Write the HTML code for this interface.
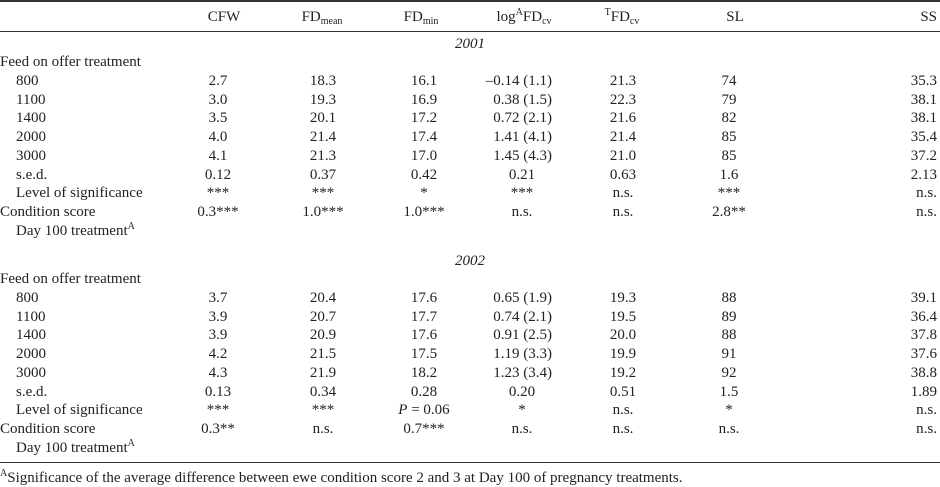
<!DOCTYPE html>
<html><head><meta charset="utf-8">
<style>
html,body{margin:0;padding:0;background:#fff;}
#t{position:relative;width:940px;height:487px;overflow:hidden;font-family:"Liberation Serif",serif;font-size:15px;color:#222;}
.c{position:absolute;white-space:nowrap;line-height:16px;}
.rule{position:absolute;left:0;width:940px;background:#333;}
sub,sup{font-size:10px;line-height:0;}
sub{vertical-align:-3px;}
sup{vertical-align:6px;}
</style></head>
<body>
<div id="t">
<div class="rule" style="top:0;height:2px"></div>
<div class="rule" style="top:31px;height:1px"></div>
<div class="rule" style="top:462px;height:1px"></div>
</div>
<script>
const colCenters=[218,323,424,522,623,729,null];
const headers=['CFW','FD<sub>mean</sub>','FD<sub>min</sub>','log<sup>A</sup>FD<sub>cv</sub>','<sup>T</sup>FD<sub>cv</sub>','SL','SS'];
const headerCenters=[224,322,421,524,622,735,926];
const labels2001=['800','1100','1400','2000','3000','s.e.d.','Level of significance'];
const rows2001=[
['2.7','18.3','16.1','\u20130.14 (1.1)','21.3','74','35.3'],
['3.0','19.3','16.9','0.38 (1.5)','22.3','79','38.1'],
['3.5','20.1','17.2','0.72 (2.1)','21.6','82','38.1'],
['4.0','21.4','17.4','1.41 (4.1)','21.4','85','35.4'],
['4.1','21.3','17.0','1.45 (4.3)','21.0','85','37.2'],
['0.12','0.37','0.42','0.21','0.63','1.6','2.13'],
['***','***','*','***','n.s.','***','n.s.']];
const cond2001=['0.3***','1.0***','1.0***','n.s.','n.s.','2.8**','n.s.'];
const rows2002=[
['3.7','20.4','17.6','0.65 (1.9)','19.3','88','39.1'],
['3.9','20.7','17.7','0.74 (2.1)','19.5','89','36.4'],
['3.9','20.9','17.6','0.91 (2.5)','20.0','88','37.8'],
['4.2','21.5','17.5','1.19 (3.3)','19.9','91','37.6'],
['4.3','21.9','18.2','1.23 (3.4)','19.2','92','38.8'],
['0.13','0.34','0.28','0.20','0.51','1.5','1.89'],
['***','***','<i>P</i> = 0.06','*','n.s.','*','n.s.']];
const cond2002=['0.3**','n.s.','0.7***','n.s.','n.s.','n.s.','n.s.'];
const T=document.getElementById('t');
function put(html,x,yc,align,name){
  const d=document.createElement('div');
  d.className='c';
  d.innerHTML=html;
  
  
  d.style.top=(yc-8)+'px';
  if(align==='left'){d.style.left=x+'px';}
  else if(align==='right'){d.style.right=(940-x)+'px';}
  else{d.style.left=(x-150)+'px';d.style.width='300px';d.style.textAlign='center';}
  T.appendChild(d);
}
headers.forEach((h,i)=>{ if(i===6) put(h,937,17,'right','col-header'); else put(h,headerCenters[i],17,'center','col-header'); });
function cellRow(vals,yc,name){
  vals.forEach((v,i)=>{
    if(i===6) put(v,937,yc,'right',name+'-cell');
    else if(i===3 && /\(/.test(v)) put(v,552,yc,'right',name+'-cell');
    else put(v,colCenters[i],yc,'center',name+'-cell');
  });
}
function block(year,yTop,rows,cond){
  put('<i>'+year+'</i>',470,yTop,'center','year-heading');
  put('Feed on offer treatment',0,yTop+18,'left','feed-label');
  const step=18.7;
  labels2001.forEach((l,i)=>{
    const yc=yTop+37+i*step;
    put(l,16,yc,'left','row-label');
    cellRow(rows[i],yc,'data');
  });
  const yc=yTop+37+7*step;
  put('Condition score',0,yc,'left','row-label');
  cellRow(cond,yc,'condition');
  put('Day 100 treatment<sup>A</sup>',16,yc+19,'left','row-label');
}
block('2001',44,rows2001,cond2001);
block('2002',261,rows2002,cond2002);
put('<sup>A</sup>Significance of the average difference between ewe condition score 2 and 3 at Day 100 of pregnancy treatments.',0,478,'left','footnote');
</script>
</body></html>
